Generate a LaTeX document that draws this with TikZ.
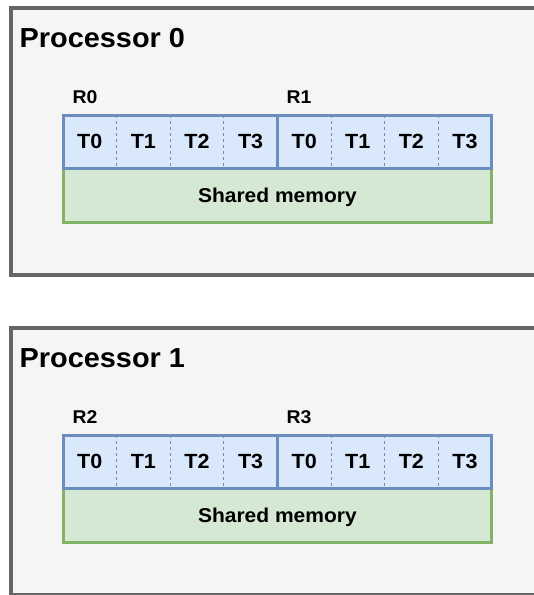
\documentclass[tikz,border=0pt]{standalone}
\usepackage{fontspec}
\newfontfamily\labelfont{Liberation Sans}[FakeStretch=1.05]
\definecolor{procline}{HTML}{666666}
\definecolor{procfill}{HTML}{F5F5F5}
\definecolor{regline}{HTML}{6C8EBF}
\definecolor{regfill}{HTML}{DAE8FC}
\definecolor{memline}{HTML}{82B366}
\definecolor{memfill}{HTML}{D5E8D4}
\tikzset{
  procbox/.style={draw=procline, fill=procfill, line width=4pt, rectangle,
    minimum width=540pt, minimum height=267pt, inner sep=0pt, outer sep=0pt,
    anchor=north west},
  proctitle/.style={font=\labelfont\bfseries\fontsize{27.5}{30}\selectfont,
    inner sep=0pt, anchor=base west},
  regname/.style={font=\labelfont\bfseries\fontsize{18.5}{20}\selectfont,
    inner sep=0pt, anchor=base west},
  memcell/.style={draw=memline, fill=memfill, line width=3pt, rectangle,
    minimum width=428.8pt, minimum height=54pt, inner sep=0pt, outer sep=0pt,
    text depth=0pt,
    font=\labelfont\bfseries\fontsize{20}{22}\selectfont},
  regbox/.style={draw=regline, fill=regfill, line width=3pt, rectangle,
    minimum width=214.4pt, minimum height=53pt, inner sep=0pt, outer sep=0pt},
  threadcell/.style={rectangle, minimum width=53.6pt, minimum height=53pt,
    inner sep=0pt, outer sep=0pt,
    font=\labelfont\bfseries\fontsize{20.5}{22}\selectfont},
  divider/.style={draw=regline, line width=1pt, dash pattern=on 3pt off 3pt}
}
\begin{document}
\begin{tikzpicture}[x=1pt, y=-1pt]
  \useasboundingbox (0,0) rectangle (534,595);
  \fill[white] (0,0) rectangle (534,595);
  \begin{scope}
    \clip (0,0) rectangle (534,595);
    \foreach \p/\ra/\rb in {0/0/1, 1/2/3} {
      \pgfmathsetmacro{\dy}{320*\p}
      % processor frame and title
      \node[procbox] (proc\p) at (11, 8+\dy) {};
      \node[proctitle] (title\p) at (19.5, 47+\dy) {Processor \p};
      % shared memory strip below the registers
      \node[memcell] (mem\p) at (277.4, 195+\dy) {Shared memory};
      % two register blocks, four thread slots each
      \node[regbox] (rega\p) at (170.2, 141.5+\dy) {};
      \node[regbox] (regb\p) at (384.6, 141.5+\dy) {};
      \node[regname] (namea\p) at (72.5, 103+\dy) {R\ra};
      \node[regname] (nameb\p) at (286.5, 103+\dy) {R\rb};
      \foreach \i in {0,...,3} {
        \node[threadcell] (ta\p\i) at (63+53.6*\i+26.8, 141.5+\dy) {T\i};
        \node[threadcell] (tb\p\i) at (277.4+53.6*\i+26.8, 141.5+\dy) {T\i};
      }
      \foreach \i in {0,1,2} {
        \draw[divider] (ta\p\i.north east) -- (ta\p\i.south east);
        \draw[divider] (tb\p\i.north east) -- (tb\p\i.south east);
      }
    }
  \end{scope}
\end{tikzpicture}
\end{document}
